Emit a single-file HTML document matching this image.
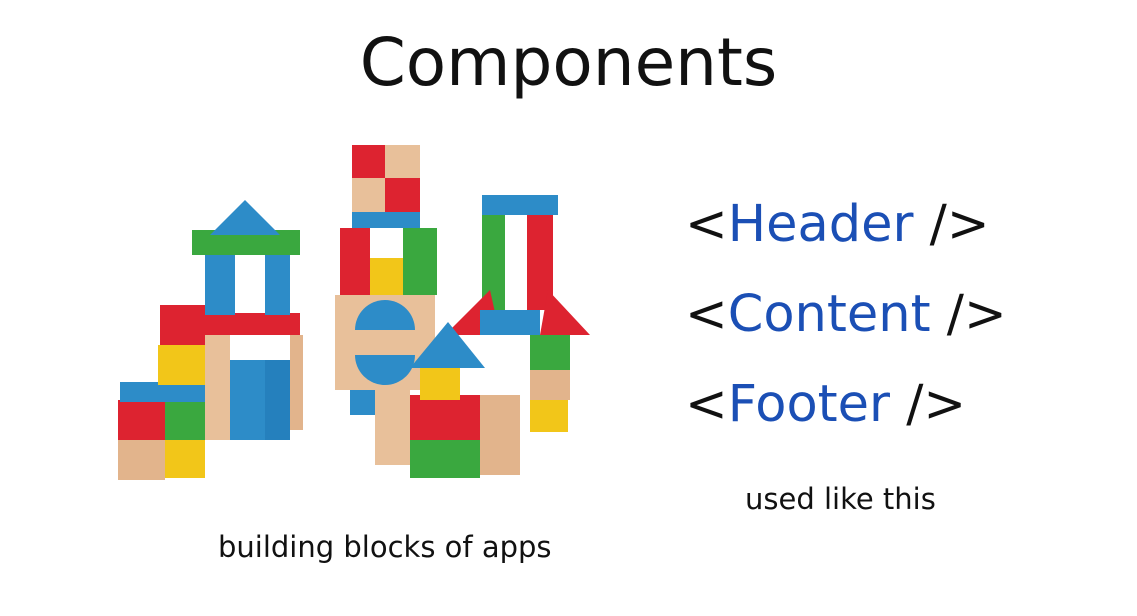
<!DOCTYPE html>
<html><head><meta charset="utf-8"><style>
html,body{margin:0;padding:0;background:#fff;width:1137px;height:616px;overflow:hidden;position:relative;font-family:"Comic Sans MS","DejaVu Sans","Liberation Sans",sans-serif;}
.t{position:absolute;white-space:nowrap;}
#title{left:0;width:1137px;text-align:center;top:24px;font-size:66px;color:#111;}
.code{left:685px;font-size:51px;color:#1b4fb5;}
.code b{font-weight:normal;color:#111;}
</style></head><body>
<div class="t" id="title">Components</div>
<svg width="1137" height="616" style="position:absolute;left:0;top:0">
<g stroke="none">
<rect x="118" y="440" width="47" height="40" fill="#e2b48c"/>
<rect x="165" y="440" width="40" height="38" fill="#f2c619"/>
<rect x="118" y="400" width="47" height="40" fill="#dd2330"/>
<rect x="165" y="400" width="40" height="40" fill="#3aa83f"/>
<rect x="120" y="382" width="85" height="20" fill="#2d8cc8"/>
<rect x="160" y="305" width="50" height="40" fill="#dd2330"/>
<rect x="158" y="345" width="47" height="40" fill="#f2c619"/>
<rect x="205" y="313" width="95" height="22" fill="#dd2330"/>
<rect x="205" y="335" width="25" height="105" fill="#e8c09a"/>
<rect x="230" y="360" width="35" height="80" fill="#2d8cc8"/>
<rect x="265" y="360" width="25" height="80" fill="#2580bd"/>
<rect x="290" y="335" width="13" height="95" fill="#e2b48c"/>
<rect x="205" y="250" width="30" height="65" fill="#2d8cc8"/>
<rect x="265" y="250" width="25" height="65" fill="#2d8cc8"/>
<rect x="192" y="230" width="108" height="25" fill="#3aa83f"/>
<polygon points="210,235 245,200 280,235" fill="#2d8cc8"/>
<rect x="352" y="145" width="33" height="33" fill="#dd2330"/>
<rect x="385" y="145" width="35" height="33" fill="#e8c09a"/>
<rect x="352" y="178" width="33" height="34" fill="#e8c09a"/>
<rect x="385" y="178" width="35" height="34" fill="#dd2330"/>
<rect x="352" y="212" width="68" height="16" fill="#2d8cc8"/>
<rect x="340" y="228" width="30" height="67" fill="#dd2330"/>
<rect x="370" y="258" width="33" height="37" fill="#f2c619"/>
<rect x="403" y="228" width="34" height="67" fill="#3aa83f"/>
<rect x="335" y="295" width="100" height="95" fill="#e8c09a"/>
<path d="M355 330 A30 30 0 0 1 415 330 Z" fill="#2d8cc8"/>
<path d="M355 355 A30 30 0 0 0 415 355 Z" fill="#2d8cc8"/>
<rect x="350" y="390" width="25" height="25" fill="#2d8cc8"/>
<rect x="482" y="195" width="76" height="20" fill="#2d8cc8"/>
<rect x="482" y="215" width="23" height="95" fill="#3aa83f"/>
<rect x="527" y="215" width="26" height="95" fill="#dd2330"/>
<polygon points="445,335 490,290 500,335" fill="#dd2330"/>
<polygon points="540,335 548,290 590,335" fill="#dd2330"/>
<rect x="480" y="310" width="60" height="25" fill="#2d8cc8"/>
<rect x="530" y="335" width="40" height="35" fill="#3aa83f"/>
<rect x="530" y="370" width="40" height="30" fill="#e2b48c"/>
<rect x="530" y="400" width="38" height="32" fill="#f2c619"/>
<rect x="375" y="385" width="35" height="80" fill="#e8c09a"/>
<rect x="410" y="395" width="70" height="45" fill="#dd2330"/>
<rect x="410" y="440" width="70" height="38" fill="#3aa83f"/>
<rect x="480" y="395" width="40" height="80" fill="#e2b48c"/>
<rect x="420" y="365" width="40" height="35" fill="#f2c619"/>
<polygon points="410,368 448,322 485,368" fill="#2d8cc8"/>
</g>
</svg>
<div class="t code" style="top:195px"><b>&lt;</b>Header <b>/&gt;</b></div>
<div class="t code" style="top:285px"><b>&lt;</b>Content <b>/&gt;</b></div>
<div class="t code" style="top:375px"><b>&lt;</b>Footer <b>/&gt;</b></div>
<div class="t" style="left:745px;top:482px;font-size:29px;color:#111">used like this</div>
<div class="t" style="left:218px;top:530px;font-size:29px;color:#111">building blocks of apps</div>
</body></html>
